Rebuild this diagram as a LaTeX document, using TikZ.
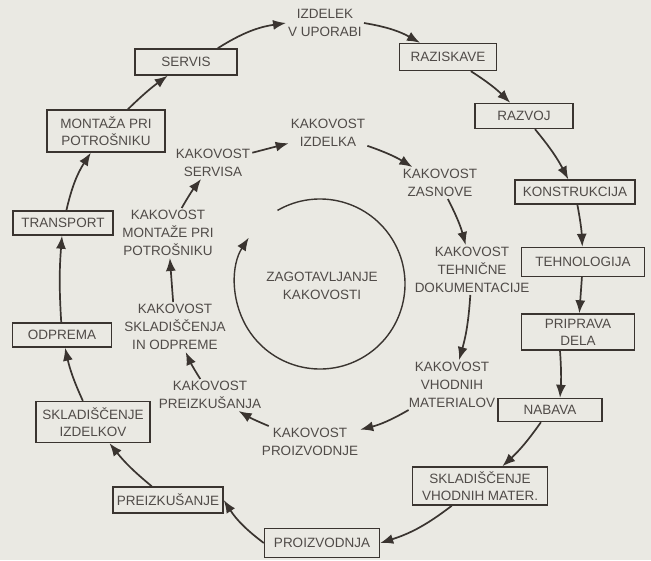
\documentclass[tikz,border=0pt]{standalone}
\usepackage{fontspec}
\setmainfont{Liberation Sans}
\usetikzlibrary{positioning, arrows.meta}
\definecolor{paper}{RGB}{234,233,227}
\definecolor{ink}{RGB}{58,52,48}
\definecolor{print}{RGB}{80,75,72}

\begin{document}
\begin{tikzpicture}[x=1pt, y=-1pt,
  stage/.style={rectangle, draw=ink, line width=1.4pt, text=print, align=center, inner sep=2pt, font=\fontsize{13.5}{17}\selectfont},
  quality/.style={align=center, text=print, inner sep=2pt, font=\fontsize{13.5}{18}\selectfont},
  flow/.style={draw=ink, line width=1.7pt, -{Latex[length=13pt, width=10pt]}}]

\fill[paper] (0,0) rectangle (651,560);
\useasboundingbox (0,0) rectangle (651,560);

% Stages

\node [quality] (uporabi) at (325,23) {IZDELEK\\V UPORABI};
\node [stage, minimum width=97pt, minimum height=27pt] (raziskave) at (448,57) {RAZISKAVE};
\node [stage, minimum width=98pt, minimum height=25pt] (razvoj) at (524,116) {RAZVOJ};
\node [stage, minimum width=120pt, minimum height=24pt] (konstrukcija) at (575,192) {KONSTRUKCIJA};
\node [stage, minimum width=123pt, minimum height=29pt] (tehnologija) at (583,262) {TEHNOLOGIJA};
\node [stage, minimum width=113pt, minimum height=36pt] (priprava) at (578,332) {PRIPRAVA\\DELA};
\node [stage, minimum width=104pt, minimum height=23pt] (nabava) at (550,410) {NABAVA};
\node [stage, minimum width=135pt, minimum height=38pt] (sklvhod) at (480,486) {SKLADIŠČENJE\\VHODNIH MATER.};
\node [stage, minimum width=115pt, minimum height=29pt] (proizvodnja) at (322,543) {PROIZVODNJA};
\node [stage, minimum width=110pt, minimum height=26pt] (preizkusanje) at (168,500) {PREIZKUŠANJE};
\node [stage, minimum width=114pt, minimum height=41pt] (skldelkov) at (93,422) {SKLADIŠČENJE\\IZDELKOV};
\node [stage, minimum width=99pt, minimum height=24pt] (odprema) at (62,335) {ODPREMA};
\node [stage, minimum width=100pt, minimum height=24pt] (transport) at (63,223) {TRANSPORT};
\node [stage, minimum width=118pt, minimum height=42pt] (montaza) at (106,131) {MONTAŽA PRI\\POTROŠNIKU};
\node [stage, minimum width=102pt, minimum height=26pt] (servis) at (186,62) {SERVIS};

% Quality

\node [quality] (kizdelka) at (328,133) {KAKOVOST\\IZDELKA};
\node [quality] (kzasnove) at (440,183) {KAKOVOST\\ZASNOVE};
\node [quality] (ktehnicne) at (472,270) {KAKOVOST\\TEHNIČNE\\DOKUMENTACIJE};
\node [quality] (kvhodnih) at (452,385) {KAKOVOST\\VHODNIH\\MATERIALOV};
\node [quality] (kproizvodnje) at (310,442) {KAKOVOST\\PROIZVODNJE};
\node [quality] (kpreizkusanja) at (210,395) {KAKOVOST\\PREIZKUŠANJA};
\node [quality] (kskladiscenja) at (175,327) {KAKOVOST\\SKLADIŠČENJA\\IN ODPREME};
\node [quality] (kmontaze) at (168,233) {KAKOVOST\\MONTAŽE PRI\\POTROŠNIKU};
\node [quality] (kservisa) at (213,163) {KAKOVOST\\SERVISA};

\node [quality] (zagotavljanje) at (322,286) {ZAGOTAVLJANJE\\KAKOVOSTI};
\coordinate (krog) at (320,284);

% Cycle

\draw[flow] (servis.north east) ++(-20,0) to[bend left=12] (uporabi.west);
\draw[flow] (uporabi.east) to[bend left=10] (raziskave.north west -| 420,0);
\draw[flow] (raziskave) to[bend left=6] (razvoj);
\draw[flow] (razvoj) to[bend left=6] (konstrukcija);
\draw[flow] (konstrukcija) to[bend left=4] (tehnologija);
\draw[flow] (tehnologija) -- (priprava);
\draw[flow] (priprava.south) ++(-18,0) to[bend left=4] (nabava.north -| 560,0);
\draw[flow] (nabava) to[bend left=6] (sklvhod);
\draw[flow] (sklvhod.south west) ++(40,0) to[bend left=10] (proizvodnja.east);
\draw[flow] (proizvodnja.west) to[bend left=10] (preizkusanje.east);
\draw[flow] (preizkusanje) to[bend left=6] (skldelkov);
\draw[flow] (skldelkov) to[bend left=6] (odprema);
\draw[flow] (odprema) to[bend left=4] (transport);
\draw[flow] (transport) to[bend left=10] (montaza);
\draw[flow] (montaza) to[bend left=4] (servis);

\draw[flow] (kservisa) -- (kizdelka);
\draw[flow] (kizdelka) to[bend left=6] (kzasnove);
\draw[flow] (kzasnove) to[bend left=6] (ktehnicne);
\draw[flow] (ktehnicne) to[bend left=6] (kvhodnih);
\draw[flow] (kvhodnih) to[bend left=8] (kproizvodnje);
\draw[flow] (kproizvodnje) to[bend left=4] (kpreizkusanja);
\draw[flow] (kpreizkusanja) to[bend left=4] (kskladiscenja);
\draw[flow] (kskladiscenja) -- (kmontaze);
\draw[flow] (kmontaze) to[bend left=4] (kservisa);

\draw[flow, line width=1.4pt] (krog) ++(-120:85) arc[start angle=-120, end angle=213, radius=85];

\end{tikzpicture}
\end{document}
